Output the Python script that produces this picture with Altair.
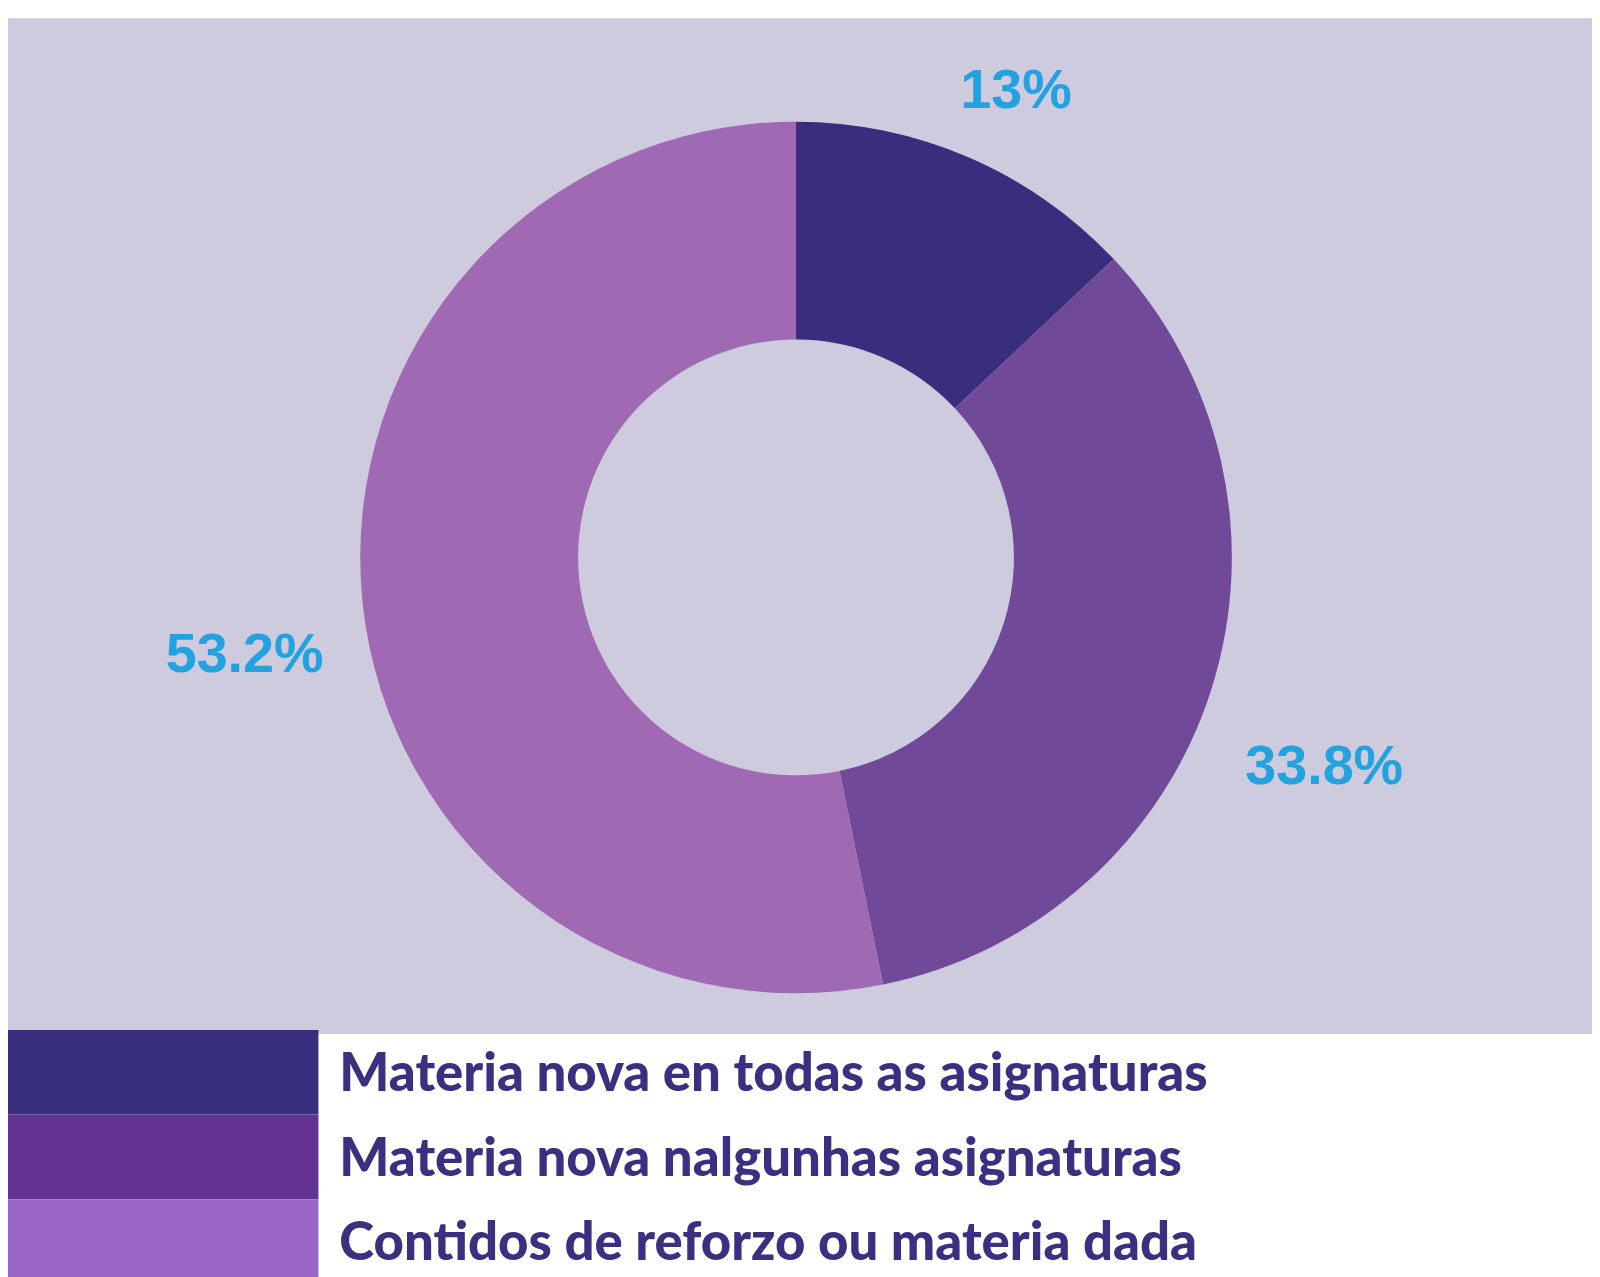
import altair as alt
import pandas as pd

categories = [
    "Materia nova en todas as asignaturas",
    "Materia nova nalgunhas asignaturas",
    "Contidos de reforzo ou materia dada",
]
values = [13.0, 33.8, 53.2]
labels = ["13%", "33.8%", "53.2%"]
pie_colors = ["#392E7E", "#704A98", "#A069B4"]
legend_colors = ["#382F7F", "#633394", "#9966C8"]

df = pd.DataFrame({
    "cat": categories,
    "value": values,
    "label": labels,
    "idx": [0, 1, 2],
})

W, H = 1592, 1262
CX, CY = 792, 542

bg = alt.Chart(pd.DataFrame({"a": [0]})).mark_rect(color="#CECBDF").encode(
    x=alt.value(0), x2=alt.value(W), y=alt.value(0), y2=alt.value(1021)
)

arc = alt.Chart(df).mark_arc(outerRadius=438, innerRadius=219, stroke=None).encode(
    theta=alt.Theta("value:Q", stack=True, scale=alt.Scale(range=[0, 6.283185307])),
    order=alt.Order("idx:Q"),
    color=alt.Color("cat:N", scale=alt.Scale(domain=categories, range=pie_colors), legend=None),
    x=alt.value(CX), y=alt.value(CY),
)

txt = alt.Chart(df).mark_text(
    radius=557, dy=42, font="Liberation Sans", fontWeight="bold", fontSize=56,
    color="#22A3DF", align="center", baseline="middle"
).encode(
    theta=alt.Theta("value:Q", stack=True),
    order=alt.Order("idx:Q"),
    text="label:N",
    x=alt.value(CX), y=alt.value(CY),
)

yscale = alt.Scale(domain=categories, range=[1017, 1272], paddingInner=0, paddingOuter=0)

leg_rect = alt.Chart(df).mark_rect().encode(
    y=alt.Y("cat:N", scale=yscale, axis=None),
    x=alt.value(0), x2=alt.value(312),
    fill=alt.Fill("cat:N", scale=alt.Scale(domain=categories, range=legend_colors), legend=None),
)

leg_txt = alt.Chart(df).mark_text(
    align="left", baseline="middle", dy=3, font="Lato", fontWeight=900, fontSize=53, color="#3A2F80"
).encode(
    y=alt.Y("cat:N", scale=yscale, axis=None, bandPosition=0.5),
    x=alt.value(333),
    text="cat:N",
)

chart = alt.layer(bg, arc, txt, leg_rect, leg_txt).properties(
    width=W, height=H,
    autosize=alt.AutoSizeParams(type="none"),
    padding={"left": 0, "top": 7, "right": 0, "bottom": 0},
    background="white",
).configure_view(stroke=None)

chart.save("out.html", embed_options={"renderer": "svg", "actions": False})
